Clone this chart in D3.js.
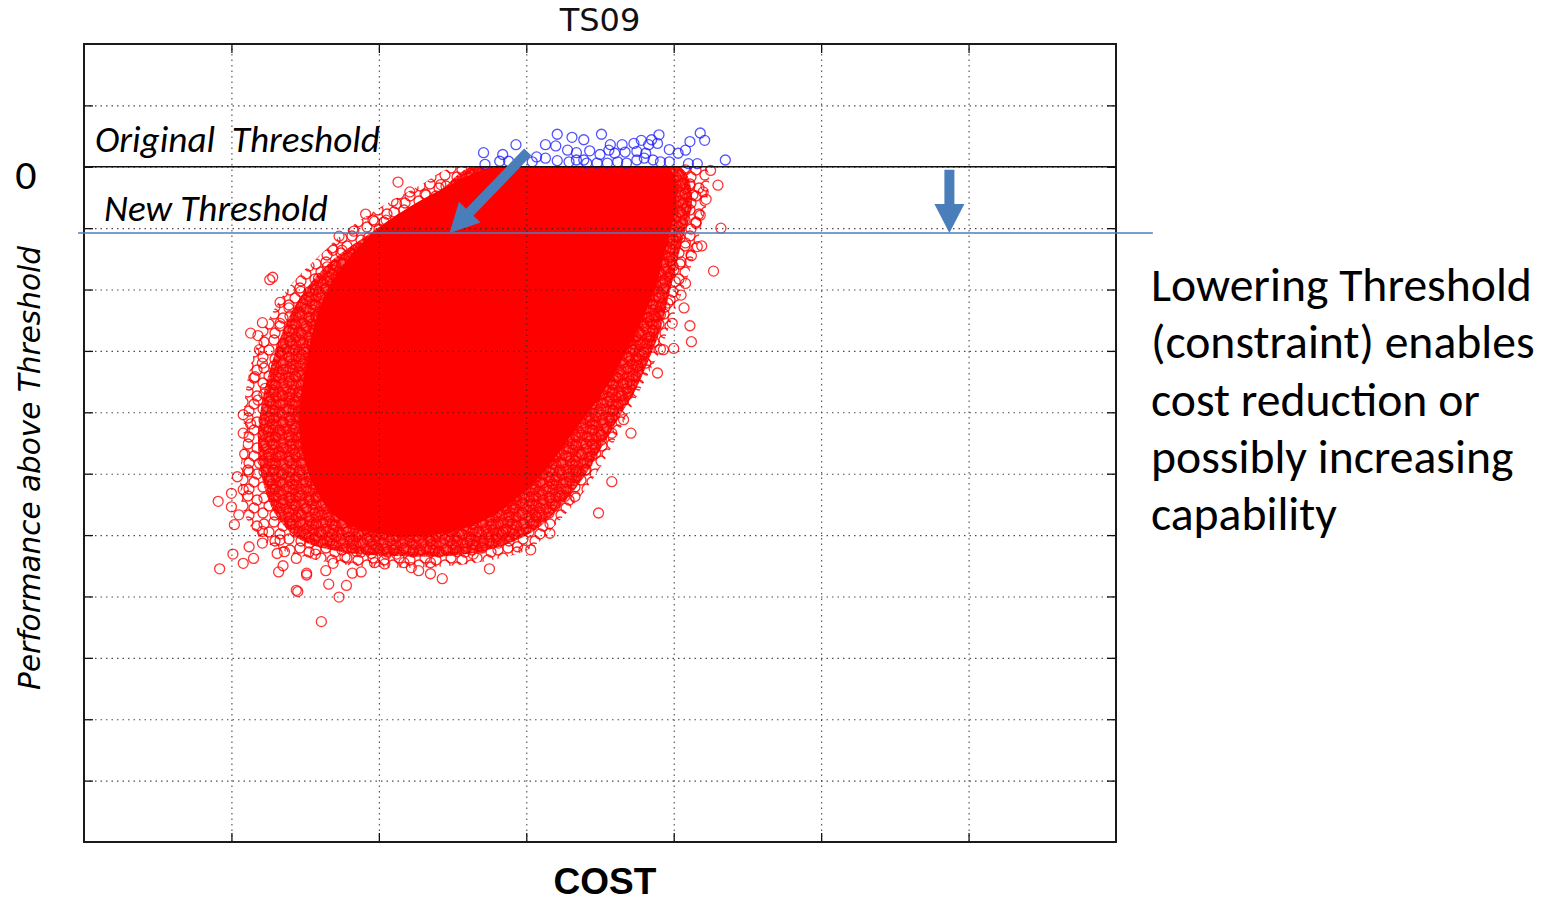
<!DOCTYPE html>
<html>
<head>
<meta charset="utf-8">
<script src="https://cdn.jsdelivr.net/npm/d3@7"></script>
<style>
  html, body { margin: 0; padding: 0; background: #fff; }
  svg { display: block; }
  .calibri { font-family: Carlito, Lato, "Open Sans", sans-serif; }
</style>
</head>
<body>
<div id="chart"></div>
<script>
// grid positions (no labels on the axes)
var costTicks = [1, 2, 3, 4, 5, 6];
var perfTicks = [1, 0, -1, -2, -3, -4, -5, -6, -7, -8, -9, -10];

var origThreshold = 0;
var newThreshold = -1.08;

// outline of the saturated part of the cloud, [cost, perf]
var denseCore = [
  [2.86, 0.0], [3.96, 0.0], [4.02, -0.54], [3.96, -1.19], [3.87, -2.01], [3.72, -2.82],
  [3.53, -3.64], [3.33, -4.29], [3.13, -4.94], [2.92, -5.43], [2.69, -5.79], [2.35, -6.00],
  [2.00, -5.98], [1.72, -5.72], [1.55, -5.15], [1.46, -4.29], [1.50, -3.31], [1.62, -2.17],
  [1.84, -1.36], [2.12, -0.79], [2.48, -0.30], [2.72, -0.05]
];
// crowded rim around the core
var denseRim = [
  [2.63, 0.0], [4.04, 0.0], [4.12, -0.38], [4.11, -0.79], [4.06, -1.19], [4.01, -1.68],
  [3.96, -2.17], [3.91, -2.66], [3.83, -3.15], [3.74, -3.64], [3.64, -4.04], [3.52, -4.53],
  [3.40, -5.02], [3.24, -5.51], [3.06, -5.92], [2.79, -6.21], [2.48, -6.34], [2.11, -6.34],
  [1.74, -6.27], [1.47, -6.08], [1.30, -5.67], [1.21, -5.10], [1.18, -4.45], [1.21, -3.80],
  [1.28, -3.15], [1.38, -2.50], [1.50, -2.01], [1.67, -1.55], [1.91, -1.13], [2.18, -0.70],
  [2.42, -0.38]
];
// thinner outer band of overlapping samples
var sparseRim = [
  [2.52, 0.0], [4.21, 0.0], [4.23, -0.46], [4.18, -1.03], [4.11, -1.68], [4.01, -2.33],
  [3.91, -2.98], [3.77, -3.64], [3.65, -4.21], [3.53, -4.78], [3.40, -5.26], [3.23, -5.75],
  [3.03, -6.21], [2.69, -6.44], [2.28, -6.53], [1.80, -6.49], [1.47, -6.34], [1.21, -6.08],
  [1.09, -5.67], [1.06, -5.10], [1.08, -4.45], [1.09, -3.80], [1.14, -3.15], [1.25, -2.50],
  [1.40, -1.93], [1.60, -1.44], [1.80, -1.00], [2.04, -0.62], [2.28, -0.30]
];

// single red samples readable outside the saturated area
var redPoints = [
  [0.91,-5.45],[0.92,-6.55],[1.01,-6.31],[1.09,-4.68],[1.08,-6.46],[1.15,-6.38],[1.12,-6.19],
  [1.21,-5.94],[1.19,-4.83],[1.32,-6.60],[1.44,-6.90],[1.51,-6.62],[1.61,-7.41],[1.66,-6.80],
  [1.73,-7.01],[1.78,-6.82],[1.88,-6.60],[1.44,-6.38],[1.64,-6.58],[1.82,-6.62],[1.97,-6.45],
  [2.04,-6.47],[2.22,-6.53],[2.27,-6.58],[2.35,-6.63],[2.43,-6.71],[2.75,-6.55],[2.64,-6.31],
  [1.00,-5.32],[1.00,-5.54],[1.02,-5.83],[1.05,-5.67],[1.08,-4.34],[1.08,-4.04],[1.13,-4.19],
  [1.25,-4.32],[1.12,-4.97],[1.04,-5.05],[1.08,-5.26],[1.31,-6.30],[1.36,-6.27],[1.33,-6.08],
  [1.21,-6.13],[1.35,-6.50],[1.53,-6.13],[1.57,-6.31],[1.69,-6.46],[1.77,-6.36],[1.85,-6.27],
  [1.95,-6.30],[2.05,-6.31],[2.12,-6.31],[2.17,-6.45],[2.35,-6.45],[2.38,-6.25],[2.53,-6.27],
  [2.60,-6.13],[2.70,-6.19],[2.81,-6.13],[2.30,-5.88],[2.49,-5.86],[1.45,-6.92],[1.51,-6.65],
  [3.89,-3.36],[3.81,-3.20],[3.71,-4.34],[3.58,-5.13],[3.49,-5.64],[3.58,-4.34],[3.66,-3.80],
  [3.66,-4.12],[3.66,-3.53],[3.33,-5.37],[3.26,-5.37],[3.47,-4.67],[3.40,-4.94],[3.51,-4.45],
  [3.93,-2.98],[4.00,-2.96],[3.75,-3.15],[3.07,-5.70],[3.16,-5.97],[3.03,-6.24],[2.94,-6.19],
  [2.86,-5.92],[3.34,-4.94],
  [4.25,-0.06],[4.30,-0.30],[4.32,-1.00],[4.27,-1.70],[4.19,-1.29],[4.12,-1.45],[4.08,-1.24],
  [4.11,-2.59],[4.12,-2.85],[4.07,-2.30],[4.08,-1.90],[3.91,-2.97],[4.20,-0.41],[4.18,-0.79],
  [4.22,-0.53],[4.15,-0.92],[4.05,-2.09],[4.11,-0.31],[4.13,-0.46],[4.09,-0.65],[4.16,-1.30],
  [4.05,-1.55],[4.00,-1.68],[4.01,-1.87],[3.96,-2.22],[3.91,-2.28],[3.99,-2.55],[3.91,-2.41],
  [3.82,-2.55],[3.84,-2.77],[3.77,-2.90],[4.08,-0.05],[4.03,-0.22],
  [2.13,-0.25],[2.21,-0.41],[1.91,-0.77],[1.83,-1.05],[1.73,-1.13],[1.69,-1.36],[1.75,-1.36],
  [1.26,-1.84],[1.28,-1.80],[1.33,-2.21],[1.13,-2.71],[1.18,-2.75],[1.21,-2.54],[1.19,-2.98],
  [1.21,-3.20],[1.16,-3.42],[1.47,-2.03],[1.65,-1.63],[1.59,-1.82],[1.33,-2.55],[1.39,-2.30],
  [1.34,-2.93],[1.23,-3.61],[1.18,-3.80],[2.05,-0.87],[2.12,-0.60],[1.97,-0.89],[2.42,-0.29],
  [2.69,-0.11],[2.60,-0.24],[2.52,-0.41],[2.32,-0.46]
];

// samples above the original threshold
var bluePoints = [
  [2.71,0.23],[2.72,0.04],[2.82,0.09],[2.84,0.20],[2.88,0.09],[2.93,0.36],[3.07,0.16],
  [3.13,0.36],[3.13,0.14],[3.21,0.53],[3.20,0.34],[3.21,0.10],[3.28,0.27],[3.31,0.48],
  [3.34,0.23],[3.39,0.44],[3.39,0.11],[3.43,0.26],[3.50,0.20],[3.51,0.53],[3.56,0.27],
  [3.57,0.36],[3.60,0.22],[3.65,0.36],[3.67,0.24],[3.73,0.38],[3.75,0.25],[3.78,0.43],
  [3.80,0.14],[3.83,0.36],[3.85,0.44],[3.89,0.38],[3.90,0.52],[3.81,0.22],[3.86,0.11],
  [3.97,0.28],[3.97,0.08],[4.03,0.22],[4.08,0.27],[4.11,0.41],[4.18,0.55],[4.21,0.43],
  [4.10,0.05],[4.16,0.05],[4.35,0.11],[3.68,0.06],[3.48,0.06],[3.29,0.08],[3.55,0.06],
  [3.04,0.08],[3.75,0.11],[3.91,0.08],[3.34,0.11],[3.62,0.08],[3.41,0.06]
];

// annotation arrows: [tail, tip]
var diagArrow = [[3.01, 0.24], [2.48, newThreshold]];
var downArrow = [[5.87, -0.05], [5.87, newThreshold]];

var noteLines = ["Lowering Threshold", "(constraint) enables", "cost reduction or",
  "possibly increasing", "capability"];

var W = 1556, H = 902;
var svg = d3.select("#chart").append("svg").attr("width", W).attr("height", H);

var x = d3.scaleLinear().domain([0, 7]).range([84, 1116]);
var y = d3.scaleLinear().domain([-11, 2]).range([842, 44]);
var plotH = y(-11) - y(2), plotW = x(7) - x(0);

var defs = svg.append("defs");
// red samples sit below the original threshold
defs.append("clipPath").attr("id", "below").append("rect")
  .attr("x", x(0)).attr("y", y(origThreshold)).attr("width", plotW).attr("height", y(-11) - y(origThreshold));

// ring textures for the crowded parts of the cloud
function ringTile(id, size, spots, bgOpacity) {
  var p = defs.append("pattern").attr("id", id).attr("patternUnits", "userSpaceOnUse")
    .attr("width", size).attr("height", size);
  if (bgOpacity > 0)
    p.append("rect").attr("width", size).attr("height", size).attr("fill", "#ff0000").attr("fill-opacity", bgOpacity);
  spots.forEach(function(s){
    [-size, 0, size].forEach(function(ox){
      [-size, 0, size].forEach(function(oy){
        p.append("circle").attr("cx", s[0] + ox).attr("cy", s[1] + oy).attr("r", 5)
          .attr("fill", "none").attr("stroke", "#ff0000").attr("stroke-opacity", 0.85).attr("stroke-width", 1.3);
      });
    });
  });
}
ringTile("ringsDense", 20, [[3,3],[10,1],[16,5],[6,9],[13,10],[19,12],[2,15],[9,17],[16,17],[12,4]], 0.62);
ringTile("ringsSparse", 26, [[4,4],[14,2],[9,12],[20,14],[3,19],[15,21],[23,6]], 0);

var area = d3.line().x(d => x(d[0])).y(d => y(d[1])).curve(d3.curveCatmullRomClosed);

var cloud = svg.append("g").attr("clip-path", "url(#below)");
cloud.append("path").datum(sparseRim).attr("d", area).attr("fill", "url(#ringsSparse)");
cloud.append("path").datum(denseRim).attr("d", area).attr("fill", "url(#ringsDense)");
cloud.append("path").datum(denseCore).attr("d", area).attr("fill", "#ff0000");

svg.append("g").selectAll("circle").data(redPoints).enter().append("circle")
  .attr("cx", d => x(d[0])).attr("cy", d => y(d[1])).attr("r", 5)
  .attr("fill", "none").attr("stroke", "#ff0000").attr("stroke-opacity", 0.8).attr("stroke-width", 1.3);

svg.append("g").selectAll("circle").data(bluePoints).enter().append("circle")
  .attr("cx", d => x(d[0])).attr("cy", d => y(d[1])).attr("r", 5)
  .attr("fill", "none").attr("stroke", "#1a1aff").attr("stroke-opacity", 0.75).attr("stroke-width", 1.3);

// dotted grid on top of the cloud
var gx = svg.append("g").attr("transform", "translate(0," + y(-11) + ")")
  .call(d3.axisBottom(x).tickValues(costTicks).tickSize(-plotH).tickFormat(""));
var gy = svg.append("g").attr("transform", "translate(" + x(0) + ",0)")
  .call(d3.axisLeft(y).tickValues(perfTicks).tickSize(-plotW).tickFormat(""));
[gx, gy].forEach(function(g){
  g.select(".domain").remove();
  g.selectAll("line").attr("stroke", "#222").attr("stroke-opacity", 0.8)
    .attr("stroke-width", 1.1).attr("stroke-dasharray", "1.5,4");
});

// inward tick marks on all four sides
function ticks(axis, tr) {
  var g = svg.append("g").attr("transform", tr).call(axis.tickSize(-9).tickFormat(""));
  g.select(".domain").remove();
  g.selectAll("line").attr("stroke", "#111").attr("stroke-width", 1.3);
}
ticks(d3.axisBottom(x).tickValues(costTicks), "translate(0," + y(-11) + ")");
ticks(d3.axisTop(x).tickValues(costTicks), "translate(0," + y(2) + ")");
ticks(d3.axisLeft(y).tickValues(perfTicks), "translate(" + x(0) + ",0)");
ticks(d3.axisRight(y).tickValues(perfTicks), "translate(" + x(7) + ",0)");

svg.append("rect").attr("x", x(0)).attr("y", y(2)).attr("width", plotW).attr("height", plotH)
  .attr("fill", "none").attr("stroke", "#1a1a1a").attr("stroke-width", 2);

// thresholds
svg.append("line").attr("x1", x(0)).attr("x2", x(7)).attr("y1", y(origThreshold)).attr("y2", y(origThreshold))
  .attr("stroke", "#111").attr("stroke-width", 1.5);
svg.append("line").attr("x1", x(-0.04)).attr("x2", x(7.25)).attr("y1", y(newThreshold)).attr("y2", y(newThreshold))
  .attr("stroke", "#4a7ebb").attr("stroke-width", 1.6);

function arrow(a) {
  var p0 = [x(a[0][0]), y(a[0][1])], p1 = [x(a[1][0]), y(a[1][1])];
  var dx = p1[0] - p0[0], dy = p1[1] - p0[1], L = Math.hypot(dx, dy);
  var ux = dx / L, uy = dy / L, nx = -uy, ny = ux;
  var sw = 5, hw = 15, hl = 29;
  var bx = p1[0] - ux * hl, by = p1[1] - uy * hl;
  var pts = [
    [p0[0] + nx * sw, p0[1] + ny * sw], [bx + nx * sw, by + ny * sw], [bx + nx * hw, by + ny * hw],
    p1, [bx - nx * hw, by - ny * hw], [bx - nx * sw, by - ny * sw], [p0[0] - nx * sw, p0[1] - ny * sw]
  ];
  svg.append("path").attr("d", "M" + pts.join("L") + "Z").attr("fill", "#4a7ebb");
}
arrow(diagArrow);
arrow(downArrow);

// texts
svg.append("text").attr("x", 600).attr("y", 31).attr("text-anchor", "middle")
  .style("font-family", "'DejaVu Sans', sans-serif").style("font-size", "32px").attr("fill", "#111").text("TS09");

svg.append("text").attr("x", 605).attr("y", 894).attr("text-anchor", "middle")
  .style("font-family", "'Liberation Sans', Arial, sans-serif").style("font-weight", "bold")
  .style("font-size", "37px").attr("fill", "#000").text("COST");

svg.append("text").attr("transform", "translate(40,468) rotate(-90)").attr("text-anchor", "middle")
  .style("font-family", "'DejaVu Sans', sans-serif").style("font-style", "italic")
  .style("font-size", "29.5px").attr("fill", "#000").text("Performance above Threshold");

svg.append("text").attr("class", "calibri").attr("x", 26).attr("y", 189).attr("text-anchor", "middle")
  .style("font-size", "42px").attr("fill", "#000").text("0");

function fitText(sel, target) {
  var w = sel.node().getComputedTextLength();
  var fs = parseFloat(sel.style("font-size"));
  sel.style("font-size", (fs * target / w) + "px");
}

var t1 = svg.append("text").attr("class", "calibri").attr("x", 95).attr("y", 152)
  .style("font-style", "italic").style("font-size", "34px").attr("fill", "#000")
  .attr("xml:space", "preserve").text("Original  Threshold");
fitText(t1, 285);
var t2 = svg.append("text").attr("class", "calibri").attr("x", 104).attr("y", 221)
  .style("font-style", "italic").style("font-size", "34px").attr("fill", "#000").text("New Threshold");
fitText(t2, 224);

var note = svg.append("text").attr("class", "calibri").style("font-size", "40px").attr("fill", "#000");
noteLines.forEach(function(s, i){
  note.append("tspan").attr("x", 1151).attr("y", 301 + i * 57.3).text(s);
});
var wFirst = note.select("tspan").node().getComputedTextLength();
note.style("font-size", (40 * 381 / wFirst) + "px");
</script>
</body>
</html>
